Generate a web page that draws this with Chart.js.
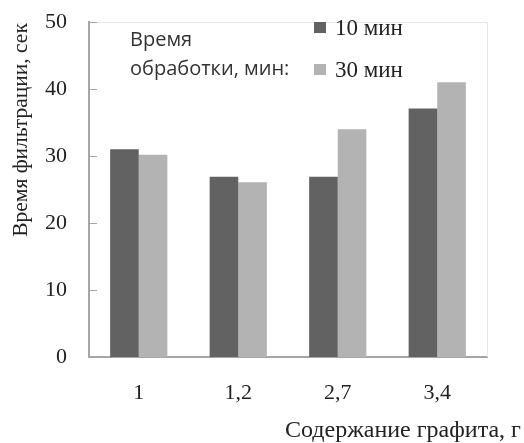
<!DOCTYPE html>
<html>
<head>
<meta charset="utf-8">
<script src="https://cdn.jsdelivr.net/npm/chart.js@4.4.0/dist/chart.umd.min.js"></script>
<style>
html,body{margin:0;padding:0;background:#fff;}
#wrap{width:524px;height:443px;}
</style>
</head>
<body>
<div id="wrap"><canvas id="c" width="524" height="443"></canvas></div>
<script>
const categories = ['1', '1,2', '2,7', '3,4'];
const series10 = [31.0, 26.9, 26.9, 37.1];
const series30 = [30.2, 26.1, 34.0, 41.0];
const seriesLabels = ['10 мин', '30 мин'];
const yTicks = [0, 10, 20, 30, 40, 50];
const yTitle = 'Время фильтрации, сек';
const xTitle = 'Содержание графита, г';
const legendTitle = ['Время', 'обработки, мин:'];

const SERIF = '"Liberation Serif", "DejaVu Serif", serif';
const SANS = '"Open Sans", "Noto Sans", sans-serif';

const decor = {
  id: 'decor',
  afterDraw(chart) {
    const ctx = chart.ctx;
    const a = chart.chartArea;
    const y = chart.scales.y;
    ctx.save();
    ctx.strokeStyle = '#e6e6e6';
    ctx.lineWidth = 1;
    ctx.beginPath();
    ctx.moveTo(a.left, a.top + 0.5);
    ctx.lineTo(a.right + 0.5, a.top + 0.5);
    ctx.lineTo(a.right + 0.5, a.bottom);
    ctx.stroke();
    ctx.strokeStyle = '#a6a6a6';
    ctx.lineWidth = 1;
    yTicks.forEach(v => {
      const py = Math.round(y.getPixelForValue(v)) + 0.5;
      ctx.beginPath();
      ctx.moveTo(a.left, py);
      ctx.lineTo(a.left + 8, py);
      ctx.stroke();
    });
    ctx.fillStyle = '#222';
    ctx.font = '21.5px ' + SERIF;
    ctx.textAlign = 'center';
    ctx.textBaseline = 'middle';
    ctx.save();
    ctx.translate(21, 130);
    ctx.rotate(-Math.PI / 2);
    ctx.fillText(yTitle, 0, 0);
    ctx.restore();
    ctx.font = '24px ' + SERIF;
    ctx.textAlign = 'left';
    ctx.fillText(xTitle, 285, 431);
    ctx.fillStyle = '#333';
    ctx.font = '20px ' + SANS;
    ctx.fillText(legendTitle[0], 130, 40);
    ctx.fillText(legendTitle[1], 130, 69);
    const ds = chart.data.datasets;
    const rows = [28, 70];
    ds.forEach((d, i) => {
      ctx.fillStyle = d.backgroundColor;
      ctx.fillRect(314, rows[i] - 6, 12, 11);
      ctx.fillStyle = '#222';
      ctx.font = '23px ' + SERIF;
      ctx.fillText(d.label, 335, rows[i] + 1);
    });
    ctx.restore();
  }
};

new Chart(document.getElementById('c'), {
  type: 'bar',
  data: {
    labels: categories,
    datasets: [
      { label: seriesLabels[0], data: series10, backgroundColor: '#626262', borderWidth: 0 },
      { label: seriesLabels[1], data: series30, backgroundColor: '#b3b3b3', borderWidth: 0 }
    ]
  },
  options: {
    responsive: false,
    animation: false,
    layout: { padding: { top: 22, right: 37, left: 0, bottom: 0 } },
    plugins: { legend: { display: false }, tooltip: { enabled: false } },
    datasets: { bar: { barPercentage: 1.0, categoryPercentage: 0.575 } },
    scales: {
      x: {
        grid: { display: false, drawTicks: false },
        border: { display: true, color: '#a6a6a6', width: 2 },
        ticks: { color: '#222', font: { family: SERIF, size: 22 }, padding: 23 },
        afterFit(s) { s.height = 86; s.paddingLeft = 0; s.paddingRight = 0; }
      },
      y: {
        min: 0, max: 50,
        grid: { display: false, drawTicks: false },
        border: { display: true, color: '#a6a6a6', width: 2 },
        ticks: { stepSize: 10, color: '#222', font: { family: SERIF, size: 22 }, padding: 22 },
        afterFit(s) { s.width = 89; s.paddingTop = 0; s.paddingBottom = 0; }
      }
    }
  },
  plugins: [decor]
});
</script>
</body>
</html>
